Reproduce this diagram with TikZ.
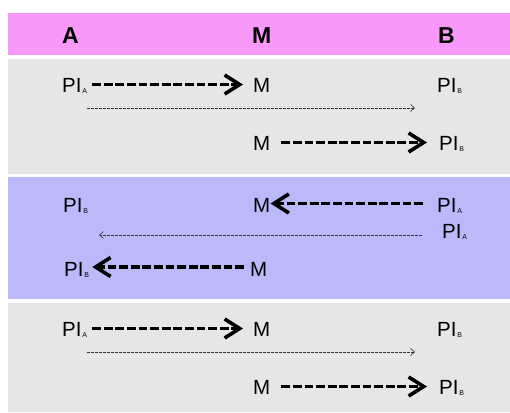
\documentclass[tikz,border=0pt]{standalone}
\usepackage{fontspec}
\setmainfont{Liberation Sans}
\usetikzlibrary{arrows.meta}
\definecolor{hdrpink}{RGB}{248,152,248}
\definecolor{bandgray}{RGB}{230,230,230}
\definecolor{bandblue}{RGB}{186,186,250}
\newcommand\lowsub[1]{\kern0.8pt\raisebox{-1.5pt}{\fontsize{7}{7}\selectfont #1}}
\begin{document}
\begin{tikzpicture}[x=1pt,y=-1pt,
  lbl/.style={anchor=base west,inner sep=0pt,font=\fontsize{20.5}{20}\selectfont},
  hdr/.style={anchor=base west,inner sep=0pt,font=\fontsize{23}{22}\selectfont\bfseries},
  bigarr/.style={line width=3.6pt,dash pattern=on 8.8pt off 2.8pt,
    -{Straight Barb[length=15pt,width=19pt,line width=3.6pt]}},
  thinarr/.style={line width=0.6pt,black!80,dash pattern=on 3pt off 1pt,
    -{Straight Barb[length=4pt,width=7pt,line width=0.6pt]}}
]
\useasboundingbox (0,0) rectangle (510,412);
\fill[white] (0,0) rectangle (510,412);
% bands
\fill[hdrpink] (8,13) rectangle (510,55);
\fill[bandgray] (8,59) rectangle (510,174);
\fill[bandblue] (8,177) rectangle (510,299);
\fill[bandgray] (8,303) rectangle (510,412);
% header
\node[hdr] (hA) at (62,44) {A};
\node[hdr] (hM) at (252,44) {M};
\node[hdr] (hB) at (438,44) {B};
% section 1
\node[lbl] (pa1) at (62,92) {PI\lowsub{A}};
\node[lbl] (m1) at (253,92) {M};
\node[lbl] (pb1) at (437,92) {PI\lowsub{B}};
\draw[bigarr,shorten <=5pt,shorten >=10pt] ([yshift=7.5pt]pa1.base east) -- ([yshift=7.5pt]m1.base west);
\coordinate (t1s) at (87,108);
\coordinate (t1e) at (415,108);
\draw[thinarr] (t1s) -- (t1e);
\node[lbl] (m2) at (253,150) {M};
\node[lbl] (pb2) at (439,150) {PI\lowsub{B}};
\draw[bigarr,shorten <=11pt,shorten >=12pt] ([yshift=7.5pt]m2.base east) -- ([yshift=7.5pt]pb2.base west);
% section 2 (blue)
\node[lbl] (pb3) at (63,212) {PI\lowsub{B}};
\node[lbl] (m3) at (253,212) {M};
\node[lbl] (pa3) at (437,212) {PI\lowsub{A}};
\draw[bigarr,shorten <=14pt,shorten >=0pt] ([yshift=8.5pt]pa3.base west) -- ([yshift=8.5pt]m3.base east);
\coordinate (t2s) at (422,235);
\coordinate (t2e) at (99,235);
\draw[thinarr] (t2s) -- (t2e);
\node[lbl] (pa4) at (442,238) {PI\lowsub{A}};
\node[lbl] (pb4) at (64,276) {PI\lowsub{B}};
\node[lbl] (m4) at (250,276) {M};
\draw[bigarr,shorten <=6pt,shorten >=3pt] ([yshift=9pt]m4.base west) -- ([yshift=9pt]pb4.base east);
% section 3
\node[lbl] (pa5) at (62,336) {PI\lowsub{A}};
\node[lbl] (m5) at (253,336) {M};
\node[lbl] (pb5) at (437,336) {PI\lowsub{B}};
\draw[bigarr,shorten <=5pt,shorten >=10pt] ([yshift=7.5pt]pa5.base east) -- ([yshift=7.5pt]m5.base west);
\coordinate (t3s) at (87,352);
\coordinate (t3e) at (415,352);
\draw[thinarr] (t3s) -- (t3e);
\node[lbl] (m6) at (253,394) {M};
\node[lbl] (pb6) at (439,394) {PI\lowsub{B}};
\draw[bigarr,shorten <=11pt,shorten >=12pt] ([yshift=7.5pt]m6.base east) -- ([yshift=7.5pt]pb6.base west);
\end{tikzpicture}
\end{document}
